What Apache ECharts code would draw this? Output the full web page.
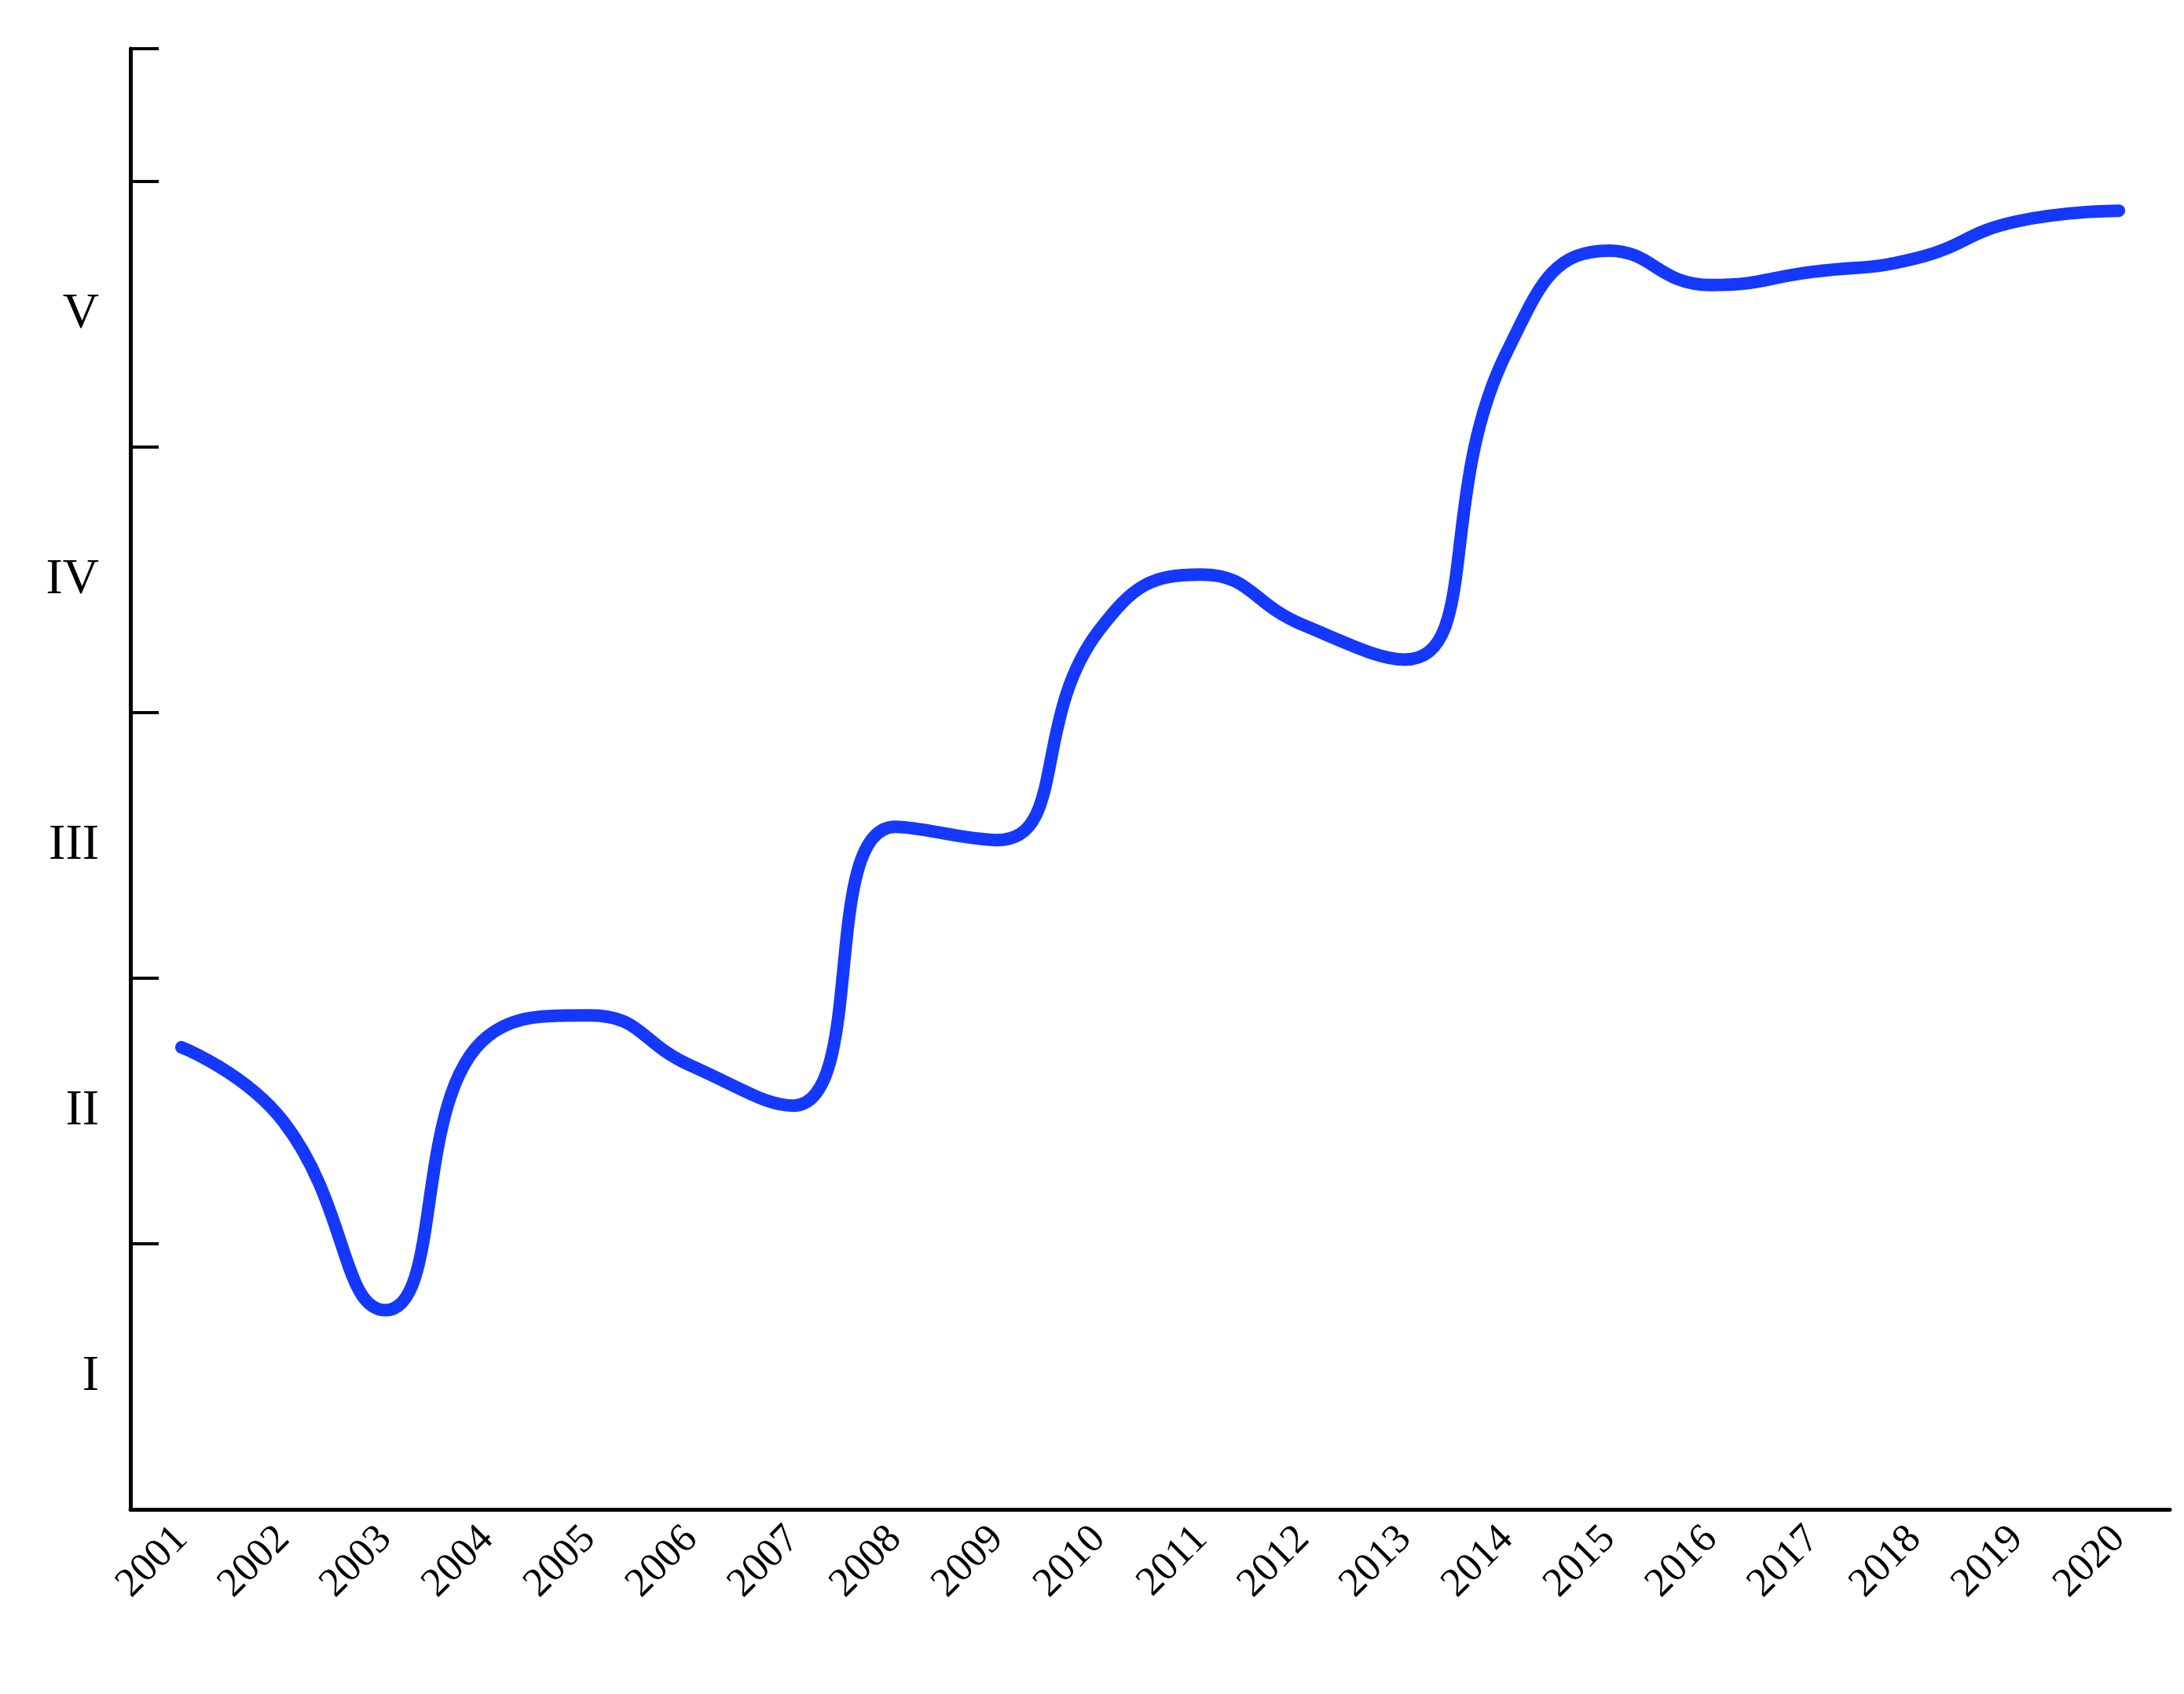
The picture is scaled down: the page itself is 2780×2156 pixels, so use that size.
<!DOCTYPE html>
<html>
<head>
<meta charset="utf-8">
<script src="https://cdn.jsdelivr.net/npm/echarts@6/dist/echarts.min.js"></script>
<style>html,body{margin:0;padding:0;background:#fff}#c{width:2780px;height:2156px}</style>
</head>
<body>
<div id="c"></div>
<script>
// 数据
const years = ['2001','2002','2003','2004','2005','2006','2007','2008','2009','2010',
  '2011','2012','2013','2014','2015','2016','2017','2018','2019','2020'];
const levels = [1.74, 1.46, 0.75, 1.78, 1.86, 1.67, 1.52, 2.57, 2.52, 3.31,
  3.52, 3.33, 3.2, 4.36, 4.74, 4.61, 4.66, 4.71, 4.85, 4.89];
const romanLabels = ['I', 'II', 'III', 'IV', 'V'];

const font = 'Liberation Serif';
const chart = echarts.init(document.getElementById('c'));
chart.setOption({
  animation: false,
  grid: { left: 166, right: 18, top: 62, bottom: 235 },
  xAxis: {
    type: 'category', data: years, boundaryGap: true,
    axisLine: { lineStyle: { color: '#000', width: 5 } },
    axisTick: { alignWithLabel: true, length: 36, lineStyle: { color: '#000', width: 4 } },
    axisLabel: { rotate: 45, fontFamily: font, fontSize: 52, color: '#000', margin: 30, interval: 0 }
  },
  yAxis: [{
    type: 'value', min: 0, max: 5.5, interval: 0.5,
    splitLine: { show: false },
    axisLine: { show: true, lineStyle: { color: '#000', width: 5 } },
    axisTick: { show: false },
    axisLabel: {
      fontFamily: font, fontSize: 64, color: '#000', margin: 40,
      formatter: v => (Math.abs(v % 1 - 0.5) < 1e-6 ? (romanLabels[Math.floor(v)] || '') : '')
    }
  }, {
    type: 'value', min: 0, max: 5.5, interval: 1, position: 'left',
    splitLine: { show: false },
    axisLine: { show: false },
    axisTick: { show: true, inside: true, length: 36, lineStyle: { color: '#000', width: 4 } },
    axisLabel: { show: false }
  }],
  series: [{
    type: 'line', data: levels, smooth: 0.5, symbol: 'none', yAxisIndex: 0,
    lineStyle: { color: '#1438ff', width: 16, cap: 'round' }
  }]
});
</script>
</body>
</html>
